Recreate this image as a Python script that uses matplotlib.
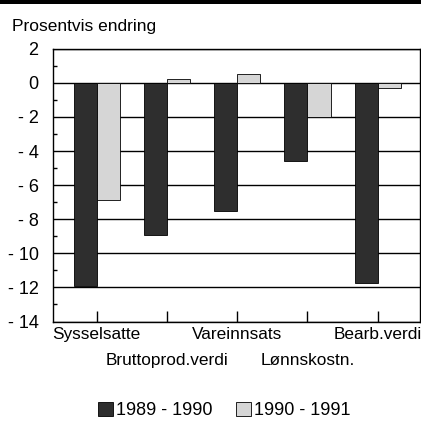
import matplotlib
matplotlib.use("Agg")
import matplotlib.pyplot as plt
from matplotlib.patches import Rectangle, Patch

categories = ['Sysselsatte', 'Bruttoprod.verdi', 'Vareinnsats', 'Lønnskostn.', 'Bearb.verdi']
series_names = ['1989 - 1990', '1990 - 1991']
v_8990 = [-11.9, -8.95, -7.5, -4.6, -11.75]
v_9091 = [-6.85, 0.25, 0.5, -2.0, -0.3]
ytick_vals = [2, 0, -2, -4, -6, -8, -10, -12, -14]
ytick_labels = ['2', '0', '- 2', '- 4', '- 6', '- 8', '- 10', '- 12', '- 14']
ylabel_text = 'Prosentvis endring'

plt.rcParams['font.family'] = ['Liberation Sans', 'DejaVu Sans']
fs = 12.4

fig = plt.figure(figsize=(4.21, 4.23), dpi=100)
fig.patch.set_facecolor('white')
ax = fig.add_axes([52.5 / 421, 101.5 / 423, (420 - 52.5) / 421, (374.3 - 101.5) / 423])

x = list(range(len(categories)))
w = 0.33
ax.bar([i - w for i in x], v_8990, width=w, align='edge', color='#2e2e2e',
       edgecolor='black', linewidth=0.6, zorder=3)
ax.bar(x, v_9091, width=w, align='edge', color='#d6d6d6',
       edgecolor='black', linewidth=0.6, zorder=3)

ax.set_xlim(-0.629, 4.602)
ax.set_ylim(-14, 2)
ax.set_yticks(ytick_vals)
ax.set_yticklabels(ytick_labels, fontsize=13)
ax.set_yticks([1, -1, -3, -5, -7, -9, -11, -13], minor=True)
ax.yaxis.grid(True, which='major', color='black', linewidth=1.0)
ax.set_axisbelow(True)
ax.tick_params(axis='y', which='major', length=0, pad=10)
ax.tick_params(axis='y', which='minor', direction='in', length=3, width=1.0)

ax.set_xticks(x)
ax.set_xticklabels([''] * len(categories))
ax.tick_params(axis='x', direction='in', length=8, width=1.0, pad=3)

trans = ax.get_xaxis_transform()
for i, c in enumerate(categories):
    yy = -0.019 if i % 2 == 0 else -0.114
    ax.text(i, yy, c, transform=trans, ha='center', va='top', fontsize=fs, clip_on=False)

for s in ax.spines.values():
    s.set_linewidth(1.0)
    s.set_color('black')

fig.text(12 / 421, (423 - 30.7) / 423, ylabel_text, fontsize=12.5,
         va='baseline', ha='left')

fig.add_artist(Rectangle((0, 1 - 4.5 / 423), 1, 4.5 / 423, transform=fig.transFigure,
                         facecolor='black', edgecolor='none'))

handles = [Patch(facecolor='#2e2e2e', edgecolor='black', linewidth=0.6),
           Patch(facecolor='#d6d6d6', edgecolor='black', linewidth=0.6)]
fig.legend(handles, series_names, loc='center', bbox_to_anchor=(224 / 421, 12.2 / 423),
           ncol=2, frameon=False, fontsize=13, handlelength=0.85, handleheight=0.8,
           handletextpad=0.15, columnspacing=1.3, borderpad=0, borderaxespad=0)

fig.savefig('out.png', dpi=100, facecolor='white')
